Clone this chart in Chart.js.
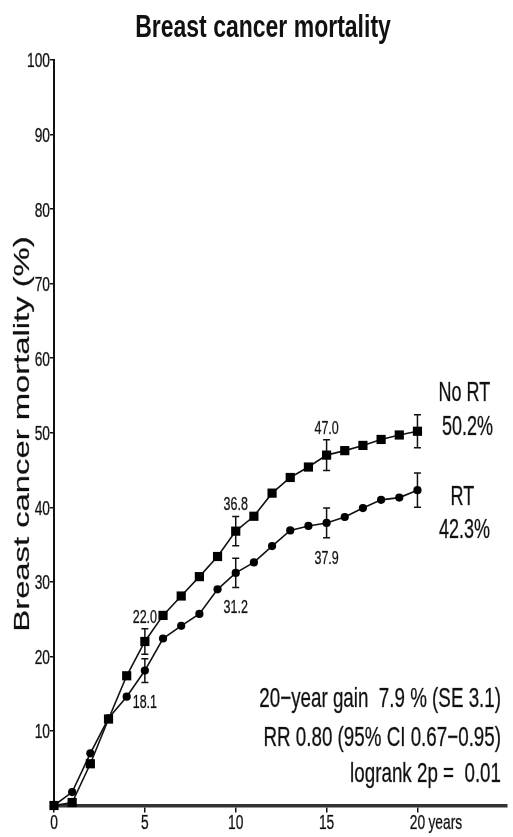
<!DOCTYPE html>
<html>
<head>
<meta charset="utf-8">
<script src="https://cdn.jsdelivr.net/npm/chart.js@4"></script>
<style>
    html, body { margin: 0; padding: 0; background: #fff; }
</style>
</head>
<body>
<canvas id="graficoMortalidade" width="513" height="837"></canvas>
<script>
// data
const years = [0, 1, 2, 3, 4, 5, 6, 7, 8, 9, 10, 11, 12, 13, 14, 15, 16, 17, 18, 19, 20];
const noRT = [0, 0.4, 5.6, 11.6, 17.4, 22.0, 25.5, 28.1, 30.7, 33.4, 36.8, 38.8, 41.9, 44.0, 45.4, 47.0, 47.6, 48.3, 49.1, 49.7, 50.2];
const withRT = [0, 1.8, 7.0, 11.7, 14.6, 18.1, 22.4, 24.1, 25.7, 29.0, 31.2, 32.6, 34.8, 36.9, 37.5, 37.9, 38.7, 39.9, 41.0, 41.3, 42.3];
const errYears = [5, 10, 15, 20];
const errNoRT = [1.7, 1.95, 2.05, 2.2];
const errWithRT = [1.6, 1.95, 2.0, 2.3];
const xTicks = [0, 5, 10, 15, 20];
const yTicks = [10, 20, 30, 40, 50, 60, 70, 80, 90, 100];
const statLines = ["20\u2212year gain  7.9 % (SE 3.1)", "RR 0.80 (95% CI 0.67\u22120.95)", "logrank 2p =  0.01"];

const FONT = "'Liberation Sans', Arial, Helvetica, sans-serif";
const STRETCH = 1.5; // text in the reference is tall and narrow

function txt(ctx, s, x, y, size, align, opts = {}) {
    ctx.save();
    ctx.translate(x, y);
    if (opts.rotate) ctx.rotate(opts.rotate);
    ctx.scale(opts.sx || 1, opts.sy || 1);
    ctx.font = `${opts.weight || "normal"} ${size}px ${FONT}`;
    ctx.textAlign = align;
    ctx.textBaseline = "alphabetic";
    ctx.fillStyle = "#111";
    // y is the centre of the capitals
    ctx.fillText(s, 0, size * 0.358);
    if (!opts.weight) {
        // the reference text is a bit heavier / blurred
        ctx.strokeStyle = "rgba(17,17,17,0.5)";
        ctx.lineWidth = 0.4;
        ctx.strokeText(s, 0, size * 0.358);
    }
    ctx.restore();
}

const extras = {
    id: "extras",
    beforeDatasetsDraw(chart) {
        const { ctx, scales: { x, y } } = chart;
        ctx.save();
        ctx.strokeStyle = "#111";
        ctx.lineWidth = 1.5;
        const bar = (yr, val, err) => {
            const px = x.getPixelForValue(yr);
            const top = y.getPixelForValue(val + err);
            const bot = y.getPixelForValue(val - err);
            ctx.beginPath();
            ctx.moveTo(px, top); ctx.lineTo(px, bot);
            ctx.moveTo(px - 3.5, top); ctx.lineTo(px + 3.5, top);
            ctx.moveTo(px - 3.5, bot); ctx.lineTo(px + 3.5, bot);
            ctx.stroke();
        };
        errYears.forEach((yr, i) => {
            const k = years.indexOf(yr);
            bar(yr, noRT[k], errNoRT[i]);
            bar(yr, withRT[k], errWithRT[i]);
        });
        ctx.restore();
    },
    afterDraw(chart) {
        const { ctx, scales: { x, y } } = chart;

        // title
        txt(ctx, "Breast cancer mortality", 263, 26, 23, "center", { weight: "bold", sy: 1.35 });

        // y axis title
        txt(ctx, "Breast cancer mortality (%)", 21, 434, 22, "center", { rotate: -Math.PI / 2, sx: 1.49 });

        // tick labels
        yTicks.forEach(v => txt(ctx, String(v), x.left - 4, y.getPixelForValue(v), 13.8, "right", { sy: STRETCH }));
        xTicks.forEach(v => {
            const px = x.getPixelForValue(v);
            txt(ctx, String(v), px, 822, 13.8, "center", { sy: STRETCH });
            if (v === 20) txt(ctx, "years", px + 11, 822, 13.8, "left", { sy: STRETCH });
        });

        // values at the error bars (all but year 20)
        errYears.slice(0, 3).forEach((yr, i) => {
            const k = years.indexOf(yr);
            const px = x.getPixelForValue(yr);
            txt(ctx, noRT[k].toFixed(1), px, y.getPixelForValue(noRT[k] + errNoRT[i]) - 13, 12.5, "center", { sy: STRETCH });
            txt(ctx, withRT[k].toFixed(1), px, y.getPixelForValue(withRT[k] - errWithRT[i]) + 19, 12.5, "center", { sy: STRETCH });
        });

        // end labels
        const last = years.length - 1;
        const ex = x.getPixelForValue(20) + 47;
        const yNo = y.getPixelForValue(noRT[last]);
        const yRt = y.getPixelForValue(withRT[last]);
        txt(ctx, "No RT", ex, yNo - 40, 18, "center", { sy: STRETCH });
        txt(ctx, noRT[last].toFixed(1) + "%", ex + 3, yNo - 6, 18, "center", { sy: STRETCH });
        txt(ctx, "RT", ex - 2, yRt + 5, 18, "center", { sy: STRETCH });
        txt(ctx, withRT[last].toFixed(1) + "%", ex, yRt + 38, 18, "center", { sy: STRETCH });

        // statistics block
        [697, 736, 772].forEach((cy, i) => txt(ctx, statLines[i], 501, cy, 18.8, "right", { sy: STRETCH }));
    }
};

const ctx = document.getElementById("graficoMortalidade").getContext("2d");

new Chart(ctx, {
    type: "line",
    data: {
        datasets: [
            {
                label: "No RT",
                data: years.map((yr, i) => ({ x: yr, y: noRT[i] })),
                borderColor: "#111",
                backgroundColor: "#000",
                borderWidth: 1.6,
                pointStyle: "rect",
                pointRadius: 6.5,
                pointBorderWidth: 0,
                tension: 0,
                clip: false
            },
            {
                label: "RT",
                data: years.map((yr, i) => ({ x: yr, y: withRT[i] })),
                borderColor: "#111",
                backgroundColor: "#000",
                borderWidth: 1.6,
                pointStyle: "circle",
                pointRadius: 4.1,
                pointBorderWidth: 0,
                tension: 0,
                clip: false
            }
        ]
    },
    options: {
        responsive: false,
        animation: false,
        devicePixelRatio: 1,
        layout: { padding: { top: 60, right: 0, bottom: 0, left: 0 } },
        plugins: {
            legend: { display: false },
            tooltip: { enabled: false }
        },
        scales: {
            x: {
                type: "linear",
                min: 0,
                max: 24.9,
                afterBuildTicks: s => { s.ticks = xTicks.map(v => ({ value: v })); },
                afterFit: s => { s.height = 31.5; },
                ticks: { display: false },
                grid: { drawOnChartArea: false, drawTicks: true, tickLength: 7, color: "#111", lineWidth: 1.5 },
                border: { color: "#333", width: 3.5 }
            },
            y: {
                min: 0,
                max: 100,
                afterBuildTicks: s => { s.ticks = yTicks.map(v => ({ value: v })); },
                afterFit: s => { s.width = 54; },
                ticks: { display: false },
                grid: { drawOnChartArea: false, drawTicks: true, tickLength: 4, color: "#111", lineWidth: 1.5 },
                border: { color: "#111", width: 2 }
            }
        }
    },
    plugins: [extras]
});
</script>
</body>
</html>
